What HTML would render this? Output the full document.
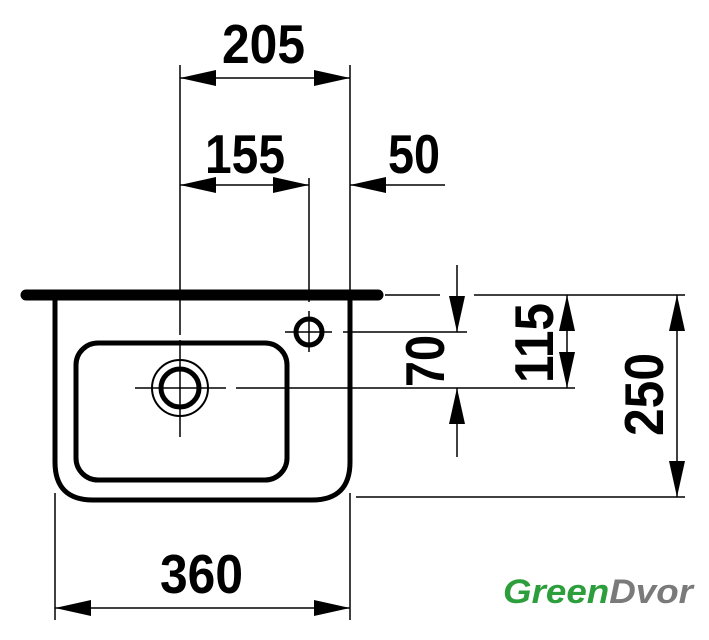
<!DOCTYPE html>
<html><head><style>html,body{margin:0;padding:0;background:#fff}svg{display:block}</style></head>
<body>
<svg width="709" height="640" viewBox="0 0 709 640" xmlns="http://www.w3.org/2000/svg">
<defs>
<marker id="a" viewBox="0 0 36 16" refX="36" refY="8" markerWidth="36" markerHeight="16" markerUnits="userSpaceOnUse" orient="auto-start-reverse"><path d="M0,0 L36,8 L0,16 Z" fill="#000"/></marker>
</defs>
<g stroke="#000" fill="none">
<line x1="26" y1="295" x2="378" y2="295" stroke-width="11" stroke-linecap="round"/>
<path d="M55,295 V462 Q55,500 93,500 H312 Q350,500 350,462 V295" stroke-width="5"/>
<rect x="76" y="343" width="211" height="137" rx="22" stroke-width="5"/>
<circle cx="180" cy="388" r="28" stroke-width="2"/>
<circle cx="180" cy="388" r="19" stroke-width="5"/>
<circle cx="309" cy="332" r="13" stroke-width="5"/>
<g stroke-width="1.5">
<line x1="180" y1="65" x2="180" y2="335"/>
<line x1="180" y1="340" x2="180" y2="437"/>
<line x1="135" y1="388" x2="226" y2="388"/>
<line x1="236" y1="388" x2="575" y2="388"/>
<line x1="309" y1="178" x2="309" y2="302"/>
<line x1="309" y1="311" x2="309" y2="352"/>
<line x1="285" y1="332" x2="332" y2="332"/>
<line x1="343" y1="332" x2="467" y2="332"/>
<line x1="350" y1="65" x2="350" y2="290"/>
<line x1="180" y1="78" x2="350" y2="78" marker-start="url(#a)" marker-end="url(#a)"/>
<line x1="180" y1="185" x2="309" y2="185" marker-start="url(#a)" marker-end="url(#a)"/>
<line x1="445" y1="185" x2="350" y2="185" marker-end="url(#a)"/>
<line x1="385" y1="295" x2="440" y2="295"/>
<line x1="474" y1="295" x2="685" y2="295"/>
<line x1="457" y1="265" x2="457" y2="332" marker-end="url(#a)"/>
<line x1="457" y1="457" x2="457" y2="388" marker-end="url(#a)"/>
<line x1="567" y1="295" x2="567" y2="388" marker-start="url(#a)" marker-end="url(#a)"/>
<line x1="677" y1="295" x2="677" y2="497" marker-start="url(#a)" marker-end="url(#a)"/>
<line x1="356" y1="497" x2="685" y2="497"/>
<line x1="55" y1="493" x2="55" y2="620"/>
<line x1="350" y1="493" x2="350" y2="620"/>
<line x1="55" y1="608" x2="350" y2="608" marker-start="url(#a)" marker-end="url(#a)"/>
</g>
</g>
<g font-family="Liberation Sans, sans-serif" font-weight="bold" font-size="55" fill="#000">
<text x="222" y="63" textLength="83" lengthAdjust="spacingAndGlyphs">205</text>
<text x="205" y="173" textLength="80" lengthAdjust="spacingAndGlyphs">155</text>
<text x="388" y="173" textLength="52" lengthAdjust="spacingAndGlyphs">50</text>
<text x="160" y="593" textLength="83" lengthAdjust="spacingAndGlyphs">360</text>
<text transform="translate(444,387) rotate(-90)" textLength="52" lengthAdjust="spacingAndGlyphs">70</text>
<text transform="translate(553,383) rotate(-90)" textLength="80" lengthAdjust="spacingAndGlyphs">115</text>
<text transform="translate(663,436) rotate(-90)" textLength="83" lengthAdjust="spacingAndGlyphs">250</text>
</g>
<text x="503" y="603" font-family="Liberation Sans, sans-serif" font-weight="bold" font-style="italic" font-size="34" textLength="190" lengthAdjust="spacingAndGlyphs"><tspan fill="#2c9e3c">Green</tspan><tspan fill="#7a7a7a">Dvor</tspan></text>
</svg>
</body></html>
